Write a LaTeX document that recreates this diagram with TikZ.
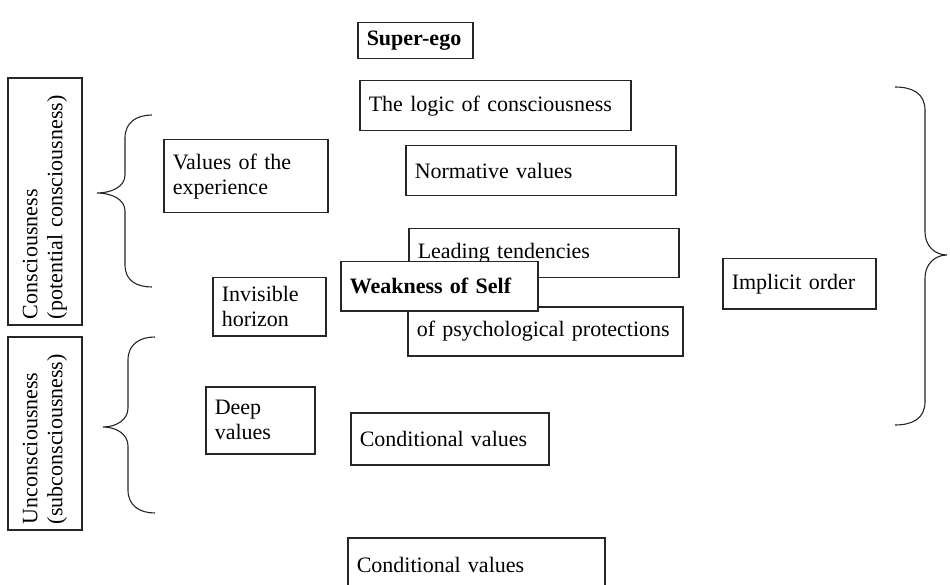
\documentclass[tikz,border=0pt]{standalone}
\usepackage{fontspec}
\setmainfont{Liberation Serif}
\usepackage{tikz}
\tikzset{
	box/.style={draw=black!85, line width=1.5pt, fill=white, anchor=north west,
			align=left, inner xsep=9pt, inner ysep=0pt,
			font=\fontsize{22}{25}\selectfont},
	side/.style={draw=black!85, line width=1.5pt, rotate=90, align=left,
			inner xsep=6pt, inner ysep=0pt, minimum height=74pt,
			font=\fontsize{22}{25}\selectfont},
	brc/.style={draw=black!85, line width=1.1pt}
}

\begin{document}
\begin{tikzpicture}[x=1pt, y=-1pt]
  \useasboundingbox (0,0) rectangle (950,585);

  % Side boxes
  \node[side, text width=235pt] (cons)   at (45,201.5) {Consciousness\\(potential consciousness)};
  \node[side, text width=181pt] (uncons) at (45,433.5) {Unconsciousness\\(subconsciousness)};

  % Nodes
  \node[box, text width=97pt,  minimum height=36pt] (ego)       at (357,22)  {\textbf{Super-ego}};
  \node[box, text width=253pt, minimum height=50pt] (logic)     at (359,80)  {The logic of consciousness};
  \node[box, text width=252pt, minimum height=50pt] (normative) at (405,145) {Normative values};
  \node[box, text width=146pt, minimum height=73pt] (values)    at (163,139) {Values of the\\experience};
  \node[box, text width=252pt, minimum height=49pt] (leading)   at (408,228) {Leading tendencies};
  \node[box, text width=257pt, minimum height=49pt] (protect)   at (407,306) {of psychological protections};
  \node[box, text width=179pt, minimum height=49pt] (weak)      at (340,261) {\textbf{Weakness of Self}};
  \node[box, text width=95pt,  minimum height=58pt] (horizon)   at (212,277) {Invisible\\horizon};
  \node[box, text width=135pt, minimum height=50pt] (implicit)  at (722,258) {Implicit order};
  \node[box, text width=91pt,  minimum height=67pt] (deep)      at (205,386) {Deep\\values};
  \node[box, text width=180pt, minimum height=52pt] (condmid)   at (350,412) {Conditional values};
  \node[box, text width=239pt, minimum height=54pt] (condbot)   at (347,537) {Conditional values};

  % Braces
  \draw[brc] (152,115) .. controls (137,115) and (125,122) .. (125,138) -- (125,175)
    .. controls (125,187) and (111,193) .. (97,193)
    .. controls (111,193) and (125,199) .. (125,211) -- (125,265)
    .. controls (125,281) and (137,287) .. (152,287);
  \draw[brc] (155,337) .. controls (140,337) and (128,344) .. (128,360) -- (128,408)
    .. controls (128,420) and (116,427) .. (103,427)
    .. controls (116,427) and (128,434) .. (128,446) -- (128,490)
    .. controls (128,506) and (140,513) .. (155,513);
  \draw[brc] (895,87) .. controls (913,87) and (925,94) .. (925,110) -- (925,232)
    .. controls (925,246) and (935,255) .. (947,255)
    .. controls (935,255) and (925,264) .. (925,278) -- (925,402)
    .. controls (925,418) and (913,425) .. (895,425);
\end{tikzpicture}
\end{document}
